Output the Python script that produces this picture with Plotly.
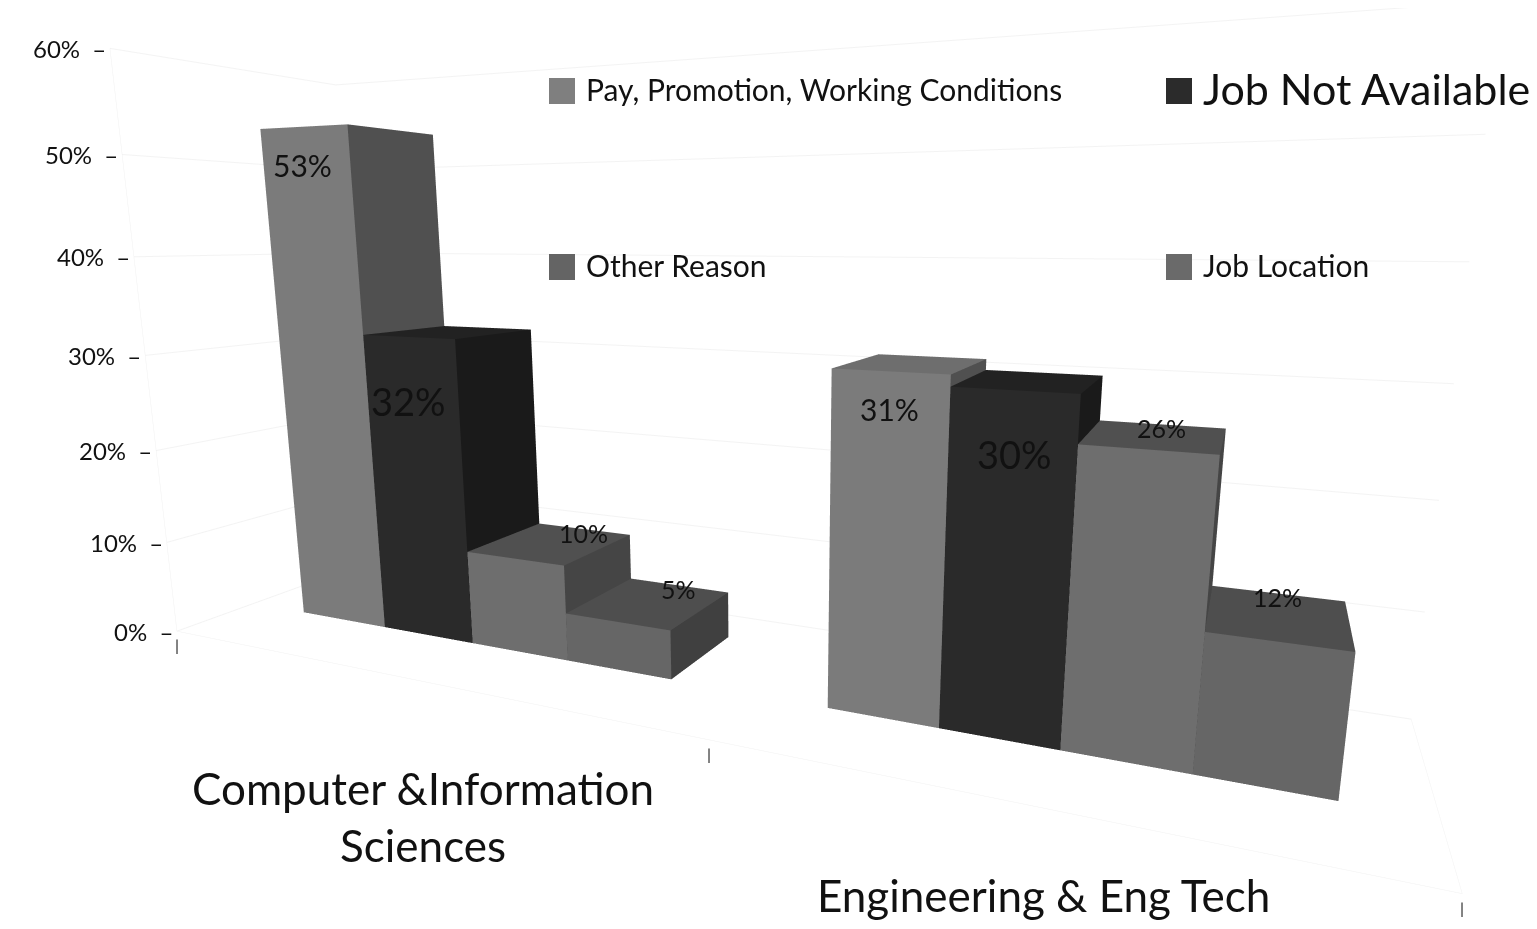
import plotly.graph_objects as go

categories = ['Computer &Information<br>Sciences', 'Engineering & Eng Tech']
series = ['Pay, Promotion, Working Conditions', 'Job Not Available', 'Other Reason', 'Job Location']
pay = [53, 31]
job_not_available = [32, 30]
other_reason = [10, 26]
job_location = [5, 12]
values = [pay, job_not_available, other_reason, job_location]
z_ticks = [0, 10, 20, 30, 40, 50, 60]
z_labels = ['0%', '10%', '20%', '30%', '40%', '50%', '60%']

# front, top, side
colors = [
    ('#7b7b7b', '#6e6e6e', '#505050'),
    ('#2a2a2a', '#222222', '#1a1a1a'),
    ('#6e6e6e', '#505050', '#454545'),
    ('#666666', '#4e4e4e', '#404040'),
]
legend_colors = ['#7f7f7f', '#2b2b2b', '#646464', '#6a6a6a']
FONT = 'Lato'
INK = '#111111'


def bar_mesh(x0, x1, y0, y1, h, cols, top=True):
    xs = [x0, x1, x1, x0, x0, x1, x1, x0]
    ys = [y0, y0, y1, y1, y0, y0, y1, y1]
    zs = [0, 0, 0, 0, h, h, h, h]
    # front, right side, top
    i = [0, 0, 1, 1]
    j = [1, 5, 2, 6]
    k = [5, 4, 6, 5]
    fc = [cols[0], cols[0], cols[2], cols[2]]
    if top:
        i += [4, 4]
        j += [5, 6]
        k += [6, 7]
        fc += [cols[1], cols[1]]
    return go.Mesh3d(
        x=xs, y=ys, z=zs, i=i, j=j, k=k, facecolor=fc, flatshading=True,
        lighting=dict(ambient=1, diffuse=0, specular=0, roughness=1, fresnel=0),
        hoverinfo='skip', showscale=False,
    )


fig = go.Figure()
# bars are narrower in the second group because of the stretched perspective in the original
group_start = [0.13, 1.196]
group_bar_w = [0.199, 0.173]
Y0, Y1 = 0.35, 0.783
scene_notes = []
for c in range(2):
    for s in range(4):
        x0 = group_start[c] + s * group_bar_w[c]
        x1 = x0 + group_bar_w[c]
        h = values[s][c]
        # the tallest bar is cut flat in the original
        fig.add_trace(bar_mesh(x0, x1, Y0, Y1, h, colors[s], top=h < 50))
        on_front = s < 2
        scene_notes.append(dict(
            x=(x0 + x1) / 2, y=Y0 if on_front else Y1, z=h, text=f'{h}%',
            showarrow=False, yshift=(-64 if s == 1 else -38) if on_front else -4,
            font=dict(family=FONT, size=38 if s == 1 else (30 if on_front else 25), color=INK),
        ))

# tick labels and their small dashes
for t, lab in zip(z_ticks, z_labels):
    scene_notes.append(dict(x=0, y=0, z=t, text=f'{lab}  –', showarrow=False, xanchor='right', xshift=-2,
                            font=dict(family=FONT, size=24, color=INK)))
for t in [0, 1.08, 2]:
    scene_notes.append(dict(x=t, y=0, z=0, text='|', showarrow=False, yanchor='top', yshift=-2,
                            font=dict(family=FONT, size=16, color='#222222')))

axis_base = dict(showbackground=False, title='', zeroline=False, showspikes=False)
fig.update_layout(
    margin=dict(l=0, r=0, t=0, b=0),
    paper_bgcolor='white',
    showlegend=False,
    scene=dict(
        domain=dict(x=[0, 1], y=[0, 1]),
        aspectmode='manual',
        aspectratio=dict(x=1.94, y=0.47, z=0.97),
        camera=dict(eye=dict(x=0.727, y=-1.49, z=0.195), center=dict(x=0.05, y=0.03, z=-0.15), up=dict(x=0, y=0, z=1)),
        xaxis=dict(axis_base, range=[0, 2], showgrid=False, showticklabels=False, ticks='',
                   showline=True, linecolor='#f1f1f1'),
        yaxis=dict(axis_base, range=[0, 1], showgrid=False, showticklabels=False, ticks='',
                   showline=True, linecolor='#f1f1f1'),
        zaxis=dict(axis_base, range=[0, 60], tickvals=z_ticks, showticklabels=False, gridcolor='#f3f3f3',
                   showline=True, linecolor='#f1f1f1', ticks=''),
        annotations=scene_notes,
    ),
)

# legend laid out by hand, sizes differ per entry in the original
# page body keeps an 8px margin, paper is 1521x913
legend_pos = [(549, 91, 30), (1166, 91, 43), (549, 267, 30), (1166, 267, 30)]
W, H, OFF = 1521, 913, 8
for name, col, (px, py, size) in zip(series, legend_colors, legend_pos):
    fig.add_shape(type='rect', xref='paper', yref='paper', x0=(px - OFF) / W, x1=(px + 26 - OFF) / W,
                  y0=1 - (py + 13 - OFF) / H, y1=1 - (py - 13 - OFF) / H, fillcolor=col, line_width=0)
    fig.add_annotation(xref='paper', yref='paper', x=(px + 35 - OFF) / W, y=1 - (py - 2 - OFF) / H, text=name,
                       showarrow=False, xanchor='left', yanchor='middle', font=dict(family=FONT, size=size, color=INK))

# category labels
for cat, (px, py) in zip(categories, [(423, 816), (1043, 895)]):
    fig.add_annotation(xref='paper', yref='paper', x=(px - OFF) / W, y=1 - (py - OFF) / H, text=cat, showarrow=False,
                       xanchor='center', yanchor='middle', font=dict(family=FONT, size=44, color=INK))

fig.write_html("out.html")
